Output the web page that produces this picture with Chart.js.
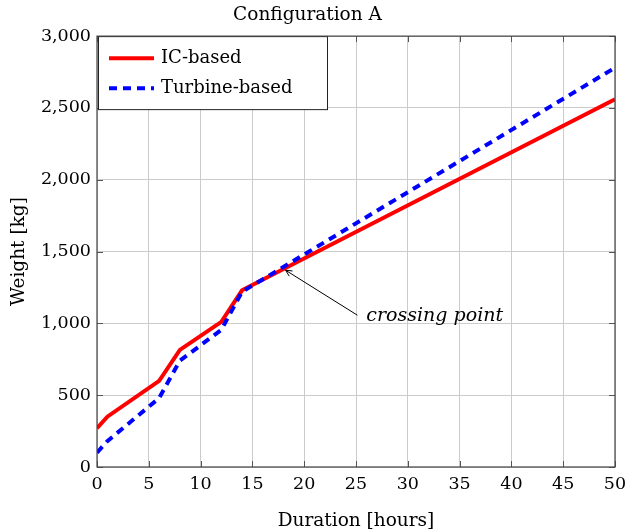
<!DOCTYPE html>
<html>
<head>
<meta charset="utf-8">
<script src="https://cdn.jsdelivr.net/npm/chart.js@4"></script>
<style>
  body { margin: 0; background: #fff; }
  #wrap { width: 627px; height: 532px; }
</style>
</head>
<body>
<div id="wrap"><canvas id="weightChart" width="627" height="532"></canvas></div>
<script>
// data
const hoursIC = [0, 1, 6, 8, 12, 14, 50];
const weightIC = [270, 350, 600, 815, 1010, 1230, 2560];
const hoursTurbine = [0, 1, 6, 8, 12, 14, 50];
const weightTurbine = [100, 180, 480, 740, 955, 1220, 2780];
const xTicks = [0, 5, 10, 15, 20, 25, 30, 35, 40, 45, 50];
const yTicks = [0, 500, 1000, 1500, 2000, 2500, 3000];
const noteText = 'crossing point';
const notePoint = [18.2, 1370];   // arrow tip
const noteAnchor = [26, 1050];    // text position

const serif = "'DejaVu Serif', 'Liberation Serif', serif";

function toPoints(xs, ys) {
    return xs.map((x, i) => ({ x: x, y: ys[i] }));
}

// frame, inward ticks, legend and annotation (pgfplots look)
const extrasPlugin = {
    id: 'extras',
    afterDatasetsDraw(chart) {
        const ctx = chart.ctx;
        const area = chart.chartArea;
        const xs = chart.scales.x;
        const ys = chart.scales.y;

        // annotation arrow + text
        const tipX = xs.getPixelForValue(notePoint[0]);
        const tipY = ys.getPixelForValue(notePoint[1]);
        const txtX = xs.getPixelForValue(noteAnchor[0]);
        const txtY = ys.getPixelForValue(noteAnchor[1]);
        const tailX = txtX - 9, tailY = txtY - 1;
        ctx.save();
        ctx.strokeStyle = '#000';
        ctx.lineWidth = 1;
        ctx.beginPath();
        ctx.moveTo(tailX, tailY);
        ctx.lineTo(tipX, tipY);
        ctx.stroke();
        const ang = Math.atan2(tipY - tailY, tipX - tailX);
        ctx.beginPath();
        ctx.moveTo(tipX - 7 * Math.cos(ang - 0.45), tipY - 7 * Math.sin(ang - 0.45));
        ctx.lineTo(tipX, tipY);
        ctx.lineTo(tipX - 7 * Math.cos(ang + 0.45), tipY - 7 * Math.sin(ang + 0.45));
        ctx.stroke();
        ctx.fillStyle = '#000';
        ctx.font = "italic 19px " + serif;
        ctx.textAlign = 'left';
        ctx.textBaseline = 'middle';
        ctx.fillText(noteText, txtX, txtY);

        // inward tick marks
        ctx.strokeStyle = '#555';
        ctx.lineWidth = 1;
        xTicks.forEach(t => {
            const px = Math.round(xs.getPixelForValue(t)) + 0.5;
            ctx.beginPath();
            ctx.moveTo(px, area.bottom); ctx.lineTo(px, area.bottom - 6);
            ctx.moveTo(px, area.top); ctx.lineTo(px, area.top + 6);
            ctx.stroke();
        });
        yTicks.forEach(t => {
            const py = Math.round(ys.getPixelForValue(t)) + 0.5;
            ctx.beginPath();
            ctx.moveTo(area.left, py); ctx.lineTo(area.left + 6, py);
            ctx.moveTo(area.right, py); ctx.lineTo(area.right - 6, py);
            ctx.stroke();
        });

        // legend box
        const lx = area.left + 1, ly = area.top;
        ctx.fillStyle = '#fff';
        ctx.fillRect(lx, ly, 229, 73);
        ctx.strokeStyle = '#222';
        ctx.strokeRect(lx + 0.5, ly + 0.5, 229, 73);
        chart.data.datasets.slice().reverse().forEach((ds, i) => {
            const rowY = ly + 22 + i * 30;
            ctx.strokeStyle = ds.borderColor;
            ctx.lineWidth = 4;
            ctx.setLineDash(ds.borderDash || []);
            ctx.beginPath();
            ctx.moveTo(lx + 11, rowY);
            ctx.lineTo(lx + 56, rowY);
            ctx.stroke();
            ctx.setLineDash([]);
            ctx.fillStyle = '#000';
            ctx.font = "18px " + serif;
            ctx.textBaseline = 'middle';
            ctx.fillText(ds.label, lx + 63, rowY);
        });

        // full frame
        ctx.strokeStyle = '#444';
        ctx.lineWidth = 1.2;
        ctx.strokeRect(area.left, area.top, area.right - area.left, area.bottom - area.top);
        ctx.restore();
    }
};

const ctx = document.getElementById('weightChart').getContext('2d');
const weightChart = new Chart(ctx, {
    type: 'line',
    data: {
        datasets: [{
            label: 'Turbine-based',
            data: toPoints(hoursTurbine, weightTurbine),
            borderColor: '#0000ff',
            borderWidth: 4,
            borderDash: [8, 6],
            pointRadius: 0,
            fill: false,
            tension: 0
        }, {
            label: 'IC-based',
            data: toPoints(hoursIC, weightIC),
            borderColor: '#ff0000',
            borderWidth: 4,
            pointRadius: 0,
            fill: false,
            tension: 0
        }]
    },
    options: {
        responsive: false,
        animation: false,
        layout: { padding: { left: 0, right: 12, top: 0, bottom: 0 } },
        scales: {
            x: {
                type: 'linear',
                min: 0,
                max: 50,
                afterBuildTicks: axis => { axis.ticks = xTicks.map(v => ({ value: v })); },
                afterFit: axis => {
                    axis.height = 65;
                    axis.paddingLeft = 0;
                    axis.paddingRight = 0;
                },
                ticks: {
                    color: '#000',
                    padding: 7,
                    maxRotation: 0,
                    font: { family: serif, size: 17.5 }
                },
                grid: { color: '#cccccc', drawTicks: false },
                border: { display: false },
                title: {
                    display: true,
                    text: 'Duration [hours]',
                    color: '#000',
                    padding: { top: 4, bottom: 0 },
                    font: { family: serif, size: 18.5 }
                }
            },
            y: {
                min: 0,
                max: 3000,
                afterBuildTicks: axis => { axis.ticks = yTicks.map(v => ({ value: v })); },
                afterFit: axis => { axis.width = 97; },
                ticks: {
                    color: '#000',
                    padding: 6,
                    font: { family: serif, size: 17.5 },
                    callback: v => v.toLocaleString('en-US')
                },
                grid: { color: '#cccccc', drawTicks: false },
                border: { display: false },
                title: {
                    display: true,
                    text: 'Weight [kg]',
                    color: '#000',
                    padding: { top: 8, bottom: 5 },
                    font: { family: serif, size: 18.5 }
                }
            }
        },
        plugins: {
            legend: { display: false },
            tooltip: { enabled: false },
            title: {
                display: true,
                text: 'Configuration A',
                color: '#000',
                padding: { top: 4, bottom: 9 },
                font: { family: serif, size: 18.5, weight: 'normal', lineHeight: 1.25 }
            }
        }
    },
    plugins: [extrasPlugin]
});
</script>
</body>
</html>
